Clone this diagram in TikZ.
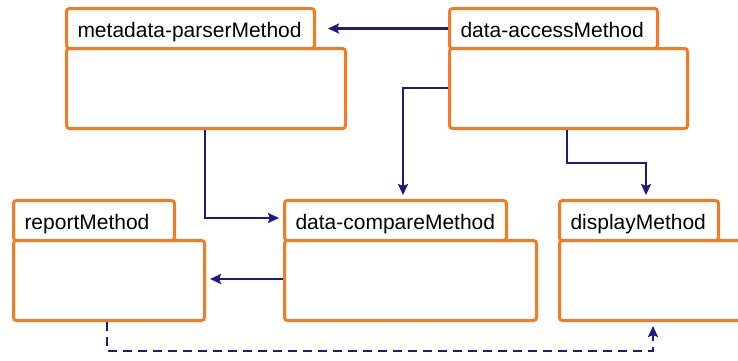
\documentclass[tikz,border=0pt]{standalone}
\usepackage{fontspec}
\setmainfont{Liberation Sans}
\usetikzlibrary{arrows.meta,calc}
\definecolor{pkgorange}{RGB}{245,122,35}
\definecolor{linknavy}{RGB}{28,28,128}
\begin{document}
\begin{tikzpicture}[x=1pt,y=-1pt,
  pkgtab/.style={draw=pkgorange,line width=3pt,fill=white,rounded corners=3pt,
    anchor=north west,inner xsep=11pt,inner ysep=0pt,align=left,
    minimum height=40pt,text height=20pt,text depth=2pt,
    font=\fontsize{21}{24}\selectfont},
  pkgbody/.style={draw=pkgorange,line width=3pt,fill=white,rounded corners=3pt,
    anchor=north west,inner sep=0pt,minimum height=80pt},
  link/.style={draw=linknavy,line width=2.2pt,
    -{Stealth[length=11pt,width=10pt,inset=2pt]},shorten >=4pt},
  deplink/.style={link,dash pattern=on 9pt off 6pt}]
\useasboundingbox (0,0) rectangle (738,360);
% metadata-parserMethod
\node[pkgtab,text width=226pt] (mpT) at (65,7) {metadata-parserMethod};
\node[pkgbody,minimum width=279pt] (mpB) at (65,47) {};
% data-accessMethod
\node[pkgtab,text width=186pt] (daT) at (448,7) {data-accessMethod};
\node[pkgbody,minimum width=238pt] (daB) at (448,47) {};
% reportMethod
\node[pkgtab,text width=139pt] (rpT) at (12,199) {reportMethod};
\node[pkgbody,minimum width=191pt] (rpB) at (12,239) {};
% data-compareMethod
\node[pkgtab,text width=200pt] (dcT) at (283,199) {data-compareMethod};
\node[pkgbody,minimum width=252pt] (dcB) at (283,239) {};
% displayMethod
\node[pkgtab,text width=137pt] (dsT) at (558,199) {displayMethod};
\node[pkgbody,minimum width=190pt] (dsB) at (558,239) {};
% connectors
\draw[link,shorten >=12pt] (daT.west) -- (mpT.east);
\draw[link] (daB.west |- 0,88) -| (dcT.north -| 403,0);
\draw[link] (daB.south -| 567,0) -- (567,163) -| (dsT.north -| 646,0);
\draw[link] (mpB.south -| 205,0) |- (dcT.west |- 0,218);
\draw[link] (dcB.west |- 0,279) -- (rpB.east |- 0,279);
\draw[deplink] (rpB.south -| 107,0) -- (107,351) -| (dsB.south -| 653,0);
\end{tikzpicture}
\end{document}
